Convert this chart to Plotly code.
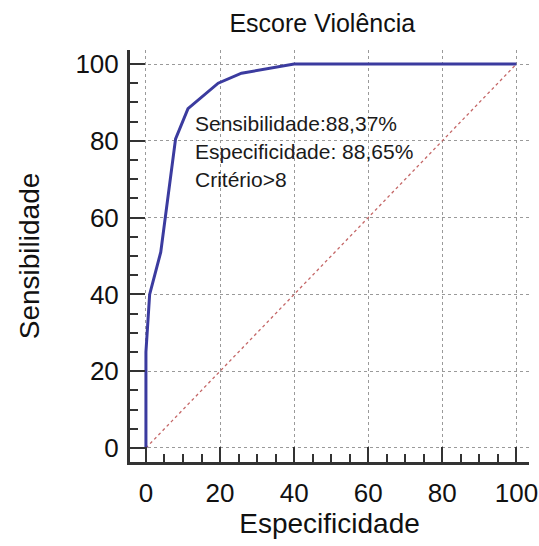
import plotly.graph_objects as go

# ROC curve data (100 - specificity, sensitivity)
fpr = [0, 0, 1, 4, 8, 11.35, 19.5, 25.8, 40, 100]
tpr = [0, 25, 40, 51, 80.5, 88.37, 95, 97.6, 100, 100]
diag_x = [0, 100]
diag_y = [0, 100]
tick_vals = [0, 20, 40, 60, 80, 100]
annot_lines = ["Sensibilidade:88,37%", "Especificidade: 88,65%", "Critério>8"]
annot_y = [84.4, 77.2, 70.0]

FONT = "Liberation Sans, Arial, sans-serif"
AX = "#333333"

fig = go.Figure()
fig.add_trace(go.Scatter(x=diag_x, y=diag_y, mode="lines",
                         line=dict(color="rgba(190,85,85,0.9)", width=1.3, dash="dot"),
                         hoverinfo="skip", showlegend=False))
fig.add_trace(go.Scatter(x=fpr, y=tpr, mode="lines",
                         line=dict(color="#3b3b9f", width=3),
                         showlegend=False))

for txt, yy in zip(annot_lines, annot_y):
    fig.add_annotation(x=12.6, y=yy, xref="x", yref="y", xanchor="left", yanchor="middle",
                       text=txt, showarrow=False, align="left",
                       font=dict(family=FONT, size=21, color="#1a1a1a"))

axis_common = dict(
    showline=True, linecolor=AX, linewidth=3, mirror=False,
    showgrid=True, gridcolor="#9a9a9a", griddash="dot", gridwidth=1,
    zeroline=False, ticks="inside", ticklen=15, tickwidth=2, tickcolor=AX,
    tickvals=tick_vals, tickfont=dict(family=FONT, size=26, color="#111111"),
    minor=dict(ticks="inside", ticklen=8, tickwidth=2, tickcolor=AX, dtick=5, showgrid=False),
    fixedrange=True,
)

fig.update_layout(
    width=539, height=546,
    margin=dict(l=130, r=10, t=50, b=84, autoexpand=False),
    paper_bgcolor="white", plot_bgcolor="white",
    title=dict(text="Escore Violência", x=0.482, xref="paper", xanchor="center",
               y=0.958, yanchor="middle",
               font=dict(family=FONT, size=25, color="#111111")),
    xaxis=dict(range=[-4.3, 103.4], ticklabelstandoff=6,
               title=dict(text="Especificidade", standoff=6,
                          font=dict(family=FONT, size=28, color="#111111")),
               **axis_common),
    yaxis=dict(range=[-3.65, 103.65], ticklabelstandoff=3,
               title=dict(text="Sensibilidade", standoff=28,
                          font=dict(family=FONT, size=28, color="#111111")),
               **axis_common),
)

fig.write_html("out.html")
